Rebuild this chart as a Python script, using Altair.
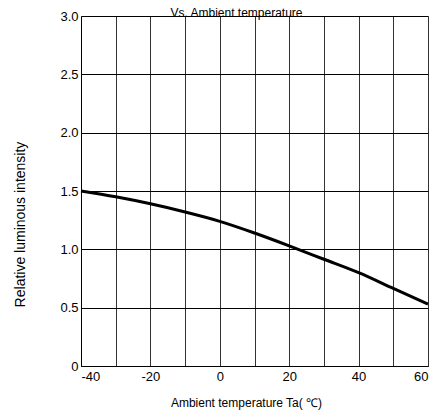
import altair as alt
import pandas as pd

temps = [-40, -30, -20, -10, 0, 10, 20, 30, 40, 50, 60]
intensity = [1.50, 1.45, 1.39, 1.32, 1.24, 1.14, 1.03, 0.915, 0.80, 0.665, 0.53]
x_ticks = [-40, -30, -20, -10, 0, 10, 20, 30, 40, 50, 60]
y_ticks = [0, 0.5, 1.0, 1.5, 2.0, 2.5, 3.0]

df = pd.DataFrame({"t": temps, "v": intensity})

FONT = "Liberation Sans"

chart = alt.Chart(df).mark_line(color="black", strokeWidth=3, interpolate="monotone").encode(
    x=alt.X("t:Q",
            scale=alt.Scale(domain=[-40, 60], nice=False, zero=False),
            axis=alt.Axis(values=x_ticks, grid=True, ticks=False,
                          labelExpr="datum.value % 20 == 0 ? '' + datum.value : ''",
                          labelPadding=4, labelFontSize=13, labelFont=FONT, labelColor="black",
                          gridColor="#333333", gridWidth=1, domainColor="black",
                          title="Ambient temperature Ta( ℃)", titleFont=FONT, titleFontSize=12,
                          titleFontWeight="normal", titleColor="black",
                          titleX=165, titleY=40, titleAlign="center", titleBaseline="alphabetic")),
    y=alt.Y("v:Q",
            scale=alt.Scale(domain=[0, 3], nice=False),
            axis=alt.Axis(values=y_ticks, grid=True, ticks=False,
                          labelExpr="datum.value == 0 ? '0' : format(datum.value, '.1f')",
                          labelPadding=3, labelFontSize=13, labelFont=FONT, labelColor="black",
                          gridColor="black", gridWidth=1, domainColor="black",
                          title="Relative luminous intensity", titleFont=FONT, titleFontSize=14,
                          titleFontWeight="normal", titleColor="black", titleAngle=270,
                          titleX=-61, titleY=208, titleAlign="center", titleBaseline="middle")),
).properties(
    width=347, height=350,
    title=alt.TitleParams("Vs. Ambient temperature", font=FONT, fontSize=12, fontWeight="normal",
                          color="black", dx=-18, offset=-10),
    autosize=alt.AutoSizeParams(type="none"),
    padding={"left": 73, "top": 8, "right": 4, "bottom": 45},
).configure_view(stroke="black", strokeWidth=1).configure(background="white")

chart.save("out.html", embed_options={"renderer": "svg", "actions": False})
